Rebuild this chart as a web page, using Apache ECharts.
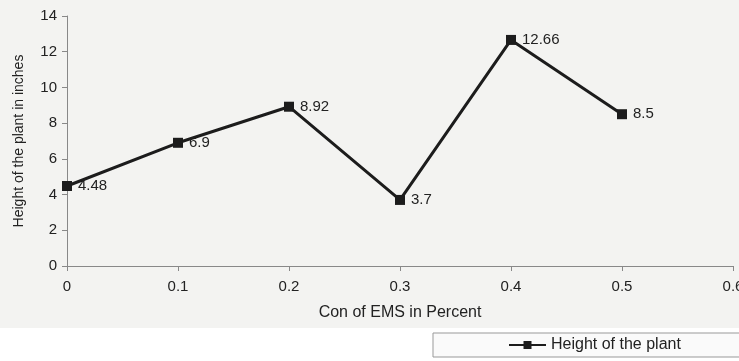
<!DOCTYPE html>
<html>
<head>
<meta charset="utf-8">
<script src="https://cdn.jsdelivr.net/npm/echarts@6/dist/echarts.min.js"></script>
<style>
  html, body { margin: 0; padding: 0; background: #ffffff; }
  #chart { width: 739px; height: 361px; }
</style>
</head>
<body>
<div id="chart"></div>
<script>
// EMS concentration (%) and measured plant height (inches)
const concentrations = [0, 0.1, 0.2, 0.3, 0.4, 0.5];
const heights = [4.48, 6.9, 8.92, 3.7, 12.66, 8.5];
const seriesName = 'Height of the plant';
const xTitle = 'Con of EMS in Percent';
const yTitle = 'Height of the plant in inches';

const points = concentrations.map((c, i) => [c, heights[i]]);
const font = '"Liberation Sans", Arial, sans-serif';

const chart = echarts.init(document.getElementById('chart'), null, { renderer: 'canvas' });
chart.setOption({
  backgroundColor: '#ffffff',
  animation: false,
  graphic: [{
    type: 'rect',
    left: 0, top: 0,
    shape: { width: 739, height: 328 },
    style: { fill: '#f3f3f1' },
    z: -10
  }],
  grid: { left: 67, right: 6, top: 16, bottom: 95, containLabel: false, outerBoundsMode: 'none' },
  xAxis: {
    type: 'value',
    min: 0, max: 0.6, interval: 0.1,
    name: xTitle,
    nameLocation: 'middle',
    nameGap: 39,
    nameTextStyle: { fontFamily: font, fontSize: 16, color: '#222' },
    axisLine: { lineStyle: { color: '#888', width: 1 } },
    axisTick: { show: true, length: 5, lineStyle: { color: '#888' } },
    axisLabel: {
      fontFamily: font, fontSize: 15, color: '#222', margin: 13,
      formatter: v => String(Math.round(v * 10) / 10)
    },
    splitLine: { show: false }
  },
  yAxis: {
    type: 'value',
    min: 0, max: 14, interval: 2,
    name: yTitle,
    nameLocation: 'middle',
    nameGap: 41,
    nameTextStyle: { fontFamily: font, fontSize: 14, color: '#222' },
    axisLine: { show: true, lineStyle: { color: '#888', width: 1 } },
    axisTick: { show: true, length: 5, lineStyle: { color: '#888' } },
    axisLabel: { fontFamily: font, fontSize: 15, color: '#222', margin: 10 },
    splitLine: { show: false }
  },
  legend: {
    left: 433, top: 333,
    padding: [4, 62, 4, 75],
    borderColor: '#999', borderWidth: 1,
    backgroundColor: '#fafafa',
    itemWidth: 37, itemHeight: 10, itemGap: 2,
    textStyle: { fontFamily: font, fontSize: 16, color: '#222' },
    data: [seriesName]
  },
  series: [{
    name: seriesName,
    type: 'line',
    data: points,
    symbol: 'rect',
    symbolSize: 10,
    lineStyle: { color: '#1c1c1c', width: 3 },
    itemStyle: { color: '#1c1c1c' },
    label: {
      show: true, position: 'right', distance: 6,
      fontFamily: font, fontSize: 15, color: '#222',
      formatter: p => String(p.value[1])
    }
  }]
});
</script>
</body>
</html>
